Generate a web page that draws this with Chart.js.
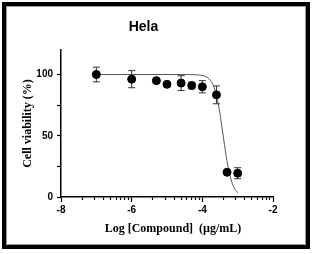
<!DOCTYPE html>
<html lang="en">
<head>
    <meta charset="UTF-8">
    <title>Hela</title>
    <script src="https://cdn.jsdelivr.net/npm/chart.js"></script>
    <style>
        html, body { margin: 0; padding: 0; background: #fff; }
        #wrap { position: relative; width: 314px; height: 254px; }
        #frame {
            position: absolute; left: 2px; top: 2px; width: 300px; height: 239px;
            border: 4px solid #000; box-shadow: inset 0 0 0 1px #999;
            pointer-events: none;
        }
        canvas { position: absolute; left: 0; top: 0; }
    </style>
</head>
<body>
    <div id="wrap">
        <canvas id="helaChart" width="314" height="254"></canvas>
        <div id="frame"></div>
    </div>

    <script>
        // measured points (log conc, viability %, error)
        var logConc = [-7, -6, -5.3, -5, -4.6, -4.3, -4, -3.6, -3.3, -3];
        var viability = [100, 96.2, 95, 92, 93, 91, 90, 83.4, 20.2, 19.4];
        var errors = [6, 7, 1.5, 1.5, 6, 2.7, 5, 7.3, 1.5, 4.5];

        // fitted curve
        var curveX = [-7, -4.6, -4.2, -4.0, -3.9, -3.8, -3.7, -3.6, -3.5, -3.45, -3.4, -3.35, -3.3, -3.2, -3.1, -3.0];
        var curveY = [100, 100, 99.8, 99.2, 98.3, 96.2, 91.8, 83, 68, 58, 48, 38, 29, 15.5, 7.5, 3.5];

        // axis ticks
        var xMajor = [-8, -6, -4, -2];
        var xMinor = [-7.4, -7.05, -6.8, -6.6, -6.44, -6.31, -6.19, -6.09,
                      -5.4, -5.05, -4.8, -4.6, -4.44, -4.31, -4.19, -4.09,
                      -3.4, -3.05, -2.8, -2.6, -2.44, -2.31, -2.19, -2.09];
        var yMajor = [0, 50, 100];
        var yMinor = [25, 75];

        var tickFont = { family: 'Liberation Sans', size: 10, weight: 'bold' };
        var titleFont = { family: 'Liberation Serif', size: 12, weight: 'bold' };

        var errorBars = {
            id: 'errorBars',
            beforeDatasetsDraw: function (chart) {
                var ctx = chart.ctx;
                var xs = chart.scales.x, ys = chart.scales.y;
                ctx.save();
                ctx.strokeStyle = '#333';
                ctx.lineWidth = 1;
                for (var i = 0; i < logConc.length; i++) {
                    var px = xs.getPixelForValue(logConc[i]);
                    var top = ys.getPixelForValue(viability[i] + errors[i]);
                    var bot = ys.getPixelForValue(viability[i] - errors[i]);
                    ctx.beginPath();
                    ctx.moveTo(px, top); ctx.lineTo(px, bot);
                    ctx.moveTo(px - 3.5, top); ctx.lineTo(px + 3.5, top);
                    ctx.moveTo(px - 3.5, bot); ctx.lineTo(px + 3.5, bot);
                    ctx.stroke();
                }
                ctx.restore();
            }
        };

        function isMinor(list, v) {
            return list.some(function (m) { return Math.abs(m - v) < 1e-6; });
        }

        var ctx = document.getElementById('helaChart').getContext('2d');
        var helaChart = new Chart(ctx, {
            type: 'scatter',
            data: {
                datasets: [{
                    label: 'fit',
                    data: curveX.map(function (x, i) { return { x: x, y: curveY[i] }; }),
                    showLine: true,
                    borderColor: '#555',
                    borderWidth: 1,
                    pointRadius: 0,
                    cubicInterpolationMode: 'monotone',
                    order: 2
                }, {
                    label: 'Hela',
                    data: logConc.map(function (x, i) { return { x: x, y: viability[i] }; }),
                    backgroundColor: '#000',
                    borderColor: '#000',
                    pointRadius: 4,
                    order: 1
                }]
            },
            options: {
                responsive: false,
                animation: false,
                layout: { padding: { left: 14, right: 41, top: 10, bottom: 14 } },
                plugins: {
                    legend: { display: false },
                    tooltip: { enabled: false },
                    title: {
                        display: true,
                        text: 'Hela',
                        color: '#000',
                        font: { family: 'Liberation Sans', size: 14, weight: 'bold' },
                        padding: { top: 8.6, bottom: 14.6 }
                    }
                },
                scales: {
                    x: {
                        type: 'linear',
                        min: -8,
                        max: -2,
                        afterBuildTicks: function (scale) {
                            scale.ticks = xMajor.concat(xMinor).sort(function (a, b) { return a - b; })
                                .map(function (v) { return { value: v }; });
                        },
                        afterFit: function (scale) { scale.height = 43; },
                        border: { color: '#000', width: 1.5 },
                        grid: {
                            drawOnChartArea: false,
                            color: '#000',
                            tickColor: '#000',
                            tickWidth: 1.2,
                            tickLength: 5,
                            tickBorderDash: function (c) {
                                return c.tick && isMinor(xMinor, c.tick.value) ? [2.5, 20] : [];
                            }
                        },
                        ticks: {
                            autoSkip: false,
                            maxRotation: 0,
                            padding: 2,
                            color: '#000',
                            font: tickFont,
                            callback: function (v) {
                                return isMinor(xMinor, v) ? '' : String(v);
                            }
                        },
                        title: {
                            display: true,
                            text: '    Log [Compound]  (µg/mL)',
                            color: '#000',
                            font: titleFont,
                            padding: { top: 0, bottom: 4 }
                        }
                    },
                    y: {
                        min: 0,
                        max: 120,
                        afterBuildTicks: function (scale) {
                            scale.ticks = yMajor.concat(yMinor).sort(function (a, b) { return a - b; })
                                .map(function (v) { return { value: v }; });
                        },
                        afterFit: function (scale) { scale.width = 47; },
                        border: { color: '#000', width: 1.5 },
                        grid: {
                            drawOnChartArea: false,
                            color: '#000',
                            tickColor: '#000',
                            tickWidth: 1.2,
                            tickLength: 4
                        },
                        ticks: {
                            autoSkip: false,
                            padding: 4,
                            color: '#000',
                            font: tickFont,
                            callback: function (v) {
                                return isMinor(yMinor, v) ? '' : String(v);
                            }
                        },
                        title: {
                            display: true,
                            text: 'Cell viability (%)',
                            color: '#000',
                            font: titleFont,
                            padding: { top: 7, bottom: 0 }
                        }
                    }
                }
            },
            plugins: [errorBars]
        });
    </script>
</body>
</html>
